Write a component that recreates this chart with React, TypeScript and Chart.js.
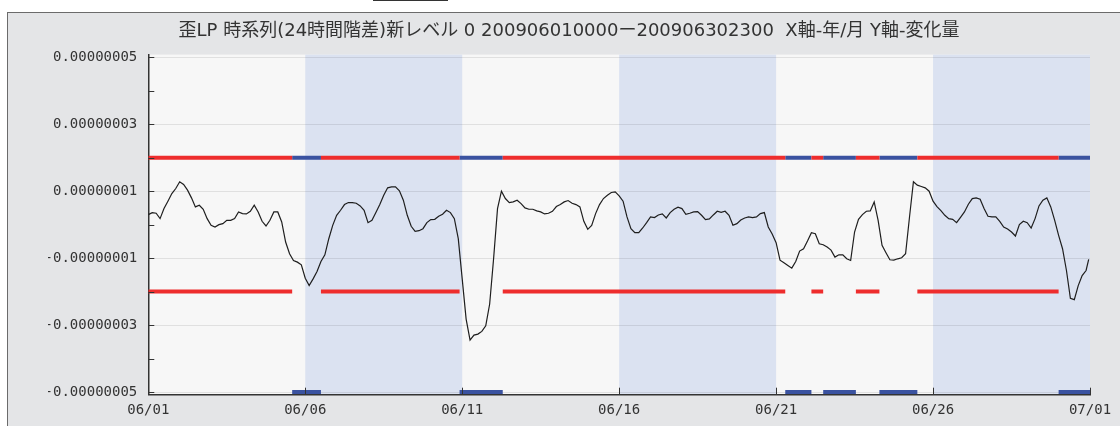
import { useEffect, useRef } from 'react';
import { Chart, registerables } from 'chart.js';

Chart.register(...registerables);

const TITLE = '歪LP 時系列(24時間階差)新レベル 0 200906010000ー200906302300  X軸-年/月 Y軸-変化量';

// 24-hour differenced strain, sampled every 3 hours from 2009-06-01 00:00, in units of 1e-8
const SAMPLE_STEP_HOURS = 3;
const VALUE_UNIT = 1e-8;
const strainDiffE8 = [
  // 06/01 – 06/08
  0.30, 0.36, 0.34, 0.18, 0.48, 0.70, 0.93, 1.08, 1.28, 1.20,
  1.03, 0.80, 0.53, 0.58, 0.46, 0.18, -0.02, -0.07, 0.00, 0.03,
  0.13, 0.13, 0.18, 0.38, 0.33, 0.32, 0.40, 0.58, 0.38, 0.10,
  -0.04, 0.13, 0.38, 0.38, 0.08, -0.52, -0.87, -1.07, -1.12, -1.20,
  -1.60, -1.82, -1.62, -1.40, -1.10, -0.90, -0.42, -0.02, 0.28, 0.43,
  0.60, 0.66, 0.66, 0.64, 0.56, 0.43, 0.06, 0.13, 0.36, 0.60,
  0.88,
  // 06/08 – 06/16
  1.10, 1.13, 1.13, 1.01, 0.73, 0.28, -0.05, -0.20, -0.18, -0.12,
  0.06, 0.15, 0.16, 0.25, 0.31, 0.43, 0.36, 0.18, -0.42, -1.62,
  -2.82, -3.45, -3.30, -3.27, -3.19, -3.02, -2.37, -1.02, 0.48, 1.00,
  0.78, 0.66, 0.68, 0.73, 0.63, 0.50, 0.46, 0.46, 0.41, 0.38,
  0.32, 0.34, 0.40, 0.54, 0.60, 0.68, 0.72, 0.64, 0.60, 0.53,
  0.10, -0.14, -0.02, 0.33, 0.60, 0.78, 0.88, 0.96, 0.98, 0.86,
  // 06/16 – 06/23
  0.70, 0.23, -0.12, -0.24, -0.24, -0.10, 0.06, 0.23, 0.21, 0.29,
  0.32, 0.20, 0.36, 0.46, 0.52, 0.48, 0.31, 0.34, 0.38, 0.39,
  0.28, 0.15, 0.17, 0.29, 0.40, 0.37, 0.40, 0.28, -0.02, 0.03,
  0.14, 0.20, 0.23, 0.21, 0.23, 0.33, 0.36, -0.07, -0.28, -0.54,
  -1.06, -1.14, -1.22, -1.30, -1.10, -0.79, -0.72, -0.49, -0.24, -0.27,
  -0.57, -0.60, -0.67, -0.76, -0.97, -0.90, -0.90, -1.02, -1.07, -0.22,
  0.16,
  // 06/23 – 06/30
  0.30, 0.40, 0.41, 0.68, 0.13, -0.62, -0.84, -1.05, -1.06, -1.02,
  -0.99, -0.87, 0.23, 1.28, 1.18, 1.14, 1.10, 1.00, 0.70, 0.54,
  0.42, 0.28, 0.18, 0.16, 0.06, 0.22, 0.38, 0.61, 0.78, 0.80,
  0.76, 0.48, 0.25, 0.23, 0.23, 0.10, -0.07, -0.13, -0.22, -0.34,
  0.00, 0.10, 0.06, -0.10, 0.18, 0.56, 0.73, 0.80, 0.53, 0.13,
  -0.32, -0.72, -1.37, -2.20, -2.24, -1.82, -1.52, -1.37,
];
// last hourly reading of the period (06/30 23:00)
const lastSampleHour = 719;
const lastSampleE8 = -1.04;

// x axis: hours since 06/01 00:00
const X_MAX_HOURS = 720;
const xTickHours = [0, 120, 240, 360, 480, 600, 720];
const xTickLabels = ['06/01', '06/06', '06/11', '06/16', '06/21', '06/26', '07/01'];

// y axis, in units of 1e-8
const Y_LIMIT_E8 = 5.08;
const yTickSteps = [-5, -4, -3, -2, -1, 0, 1, 2, 3, 4, 5];
const yLabelledSteps = [-5, -3, -1, 1, 3, 5];

// level thresholds and the status bar at the floor, in units of 1e-8
const levelUpperE8 = 2;
const levelLowerE8 = -2;
const statusFloorE8 = -5;

// status periods: boundaries in hours, and whether each period is flagged
const statusBounds = [0, 110, 132, 238, 271, 487, 507, 516, 541, 559, 588, 696, 720];
const statusFlagged = [false, true, false, true, false, true, false, true, false, true, false, true];

const PANEL_BG = '#e4e5e7';
const PLOT_BG = '#f7f7f7';
const BAND_BG = '#dbe2f1';
const RED = '#ee2d2d';
const BLUE = '#3a52a0';
const INK = '#333333';
const MONO = "'DejaVu Sans Mono', monospace";

function statusLine(flagged: boolean, levelE8: number) {
  const pts: { x: number; y: number | null }[] = [];
  statusFlagged.forEach((f, i) => {
    if (f !== flagged) return;
    const y = levelE8 * VALUE_UNIT;
    pts.push({ x: statusBounds[i], y }, { x: statusBounds[i + 1], y }, { x: statusBounds[i + 1], y: null });
  });
  return pts;
}

const bandsPlugin = {
  id: 'bands',
  beforeDraw(chart: any) {
    const { ctx, chartArea, scales } = chart;
    const { left, right, top, bottom } = chartArea;
    ctx.save();
    ctx.fillStyle = PLOT_BG;
    ctx.fillRect(left, top, right - left, bottom - top);
    ctx.fillStyle = BAND_BG;
    for (let i = 0; i < xTickHours.length - 1; i++) {
      if (i % 2 !== 1) continue;
      const x0 = scales.x.getPixelForValue(xTickHours[i]);
      const x1 = scales.x.getPixelForValue(xTickHours[i + 1]);
      ctx.fillRect(x0, top, x1 - x0, bottom - top);
    }
    ctx.restore();
  },
};

// short tick marks pointing into the plot
const innerTicksPlugin = {
  id: 'innerTicks',
  afterDraw(chart: any) {
    const { ctx, chartArea, scales } = chart;
    ctx.save();
    ctx.strokeStyle = INK;
    ctx.lineWidth = 1;
    ctx.beginPath();
    yTickSteps.forEach((s) => {
      const y = Math.round(scales.y.getPixelForValue(s * VALUE_UNIT)) + 0.5;
      ctx.moveTo(chartArea.left, y);
      ctx.lineTo(chartArea.left + 6, y);
    });
    xTickHours.forEach((h) => {
      const x = Math.round(scales.x.getPixelForValue(h)) + 0.5;
      ctx.moveTo(x, chartArea.bottom);
      ctx.lineTo(x, chartArea.bottom - 7);
    });
    ctx.stroke();
    ctx.restore();
  },
};

export default function App() {
  const canvasRef = useRef<HTMLCanvasElement | null>(null);

  useEffect(() => {
    const canvas = canvasRef.current;
    if (!canvas) return;
    const strainPoints = strainDiffE8.map((v, i) => ({ x: i * SAMPLE_STEP_HOURS, y: v * VALUE_UNIT }));
    strainPoints.push({ x: lastSampleHour, y: lastSampleE8 * VALUE_UNIT });

    const chart = new Chart(canvas, {
      type: 'line',
      data: {
        datasets: [
          {
            label: 'strain',
            data: strainPoints,
            borderColor: '#1e1e1e',
            borderWidth: 1.2,
            pointRadius: 0,
            tension: 0,
          },
          { label: 'upper normal', data: statusLine(false, levelUpperE8), borderColor: RED, borderWidth: 4, pointRadius: 0, spanGaps: false },
          { label: 'upper flagged', data: statusLine(true, levelUpperE8), borderColor: BLUE, borderWidth: 4, pointRadius: 0, spanGaps: false },
          { label: 'lower normal', data: statusLine(false, levelLowerE8), borderColor: RED, borderWidth: 4, pointRadius: 0, spanGaps: false },
          { label: 'floor flagged', data: statusLine(true, statusFloorE8), borderColor: BLUE, borderWidth: 4, pointRadius: 0, spanGaps: false },
        ],
      },
      options: {
        animation: false,
        responsive: false,
        maintainAspectRatio: false,
        events: [],
        layout: { padding: { left: 40, right: 30, top: 0, bottom: 0 } },
        plugins: {
          legend: { display: false },
          tooltip: { enabled: false },
          title: {
            display: true,
            text: TITLE,
            color: INK,
            font: { family: "'DejaVu Sans', 'Noto Sans CJK JP', sans-serif", size: 18, weight: 'normal', lineHeight: 1.2 },
            padding: { top: 8, bottom: 12 },
          },
        },
        scales: {
          x: {
            type: 'linear',
            min: 0,
            max: X_MAX_HOURS,
            bounds: 'data',
            afterBuildTicks: (s: any) => {
              s.ticks = xTickHours.map((v) => ({ value: v }));
            },
            afterFit: (s: any) => {
              s.height = 31.3;
            },
            grid: { display: false, drawTicks: false },
            border: { display: true, color: INK, width: 1.5 },
            ticks: {
              autoSkip: false,
              maxRotation: 0,
              padding: 7,
              color: INK,
              font: { family: MONO, size: 14 },
              callback: (_v: any, i: number) => xTickLabels[i],
            },
          },
          y: {
            type: 'linear',
            min: -Y_LIMIT_E8 * VALUE_UNIT,
            max: Y_LIMIT_E8 * VALUE_UNIT,
            bounds: 'data',
            afterBuildTicks: (s: any) => {
              s.ticks = yTickSteps.map((k) => ({ value: k * VALUE_UNIT }));
            },
            afterFit: (s: any) => {
              s.width = 100.3;
            },
            grid: {
              drawTicks: false,
              lineWidth: 1,
              color: (ctx: any) => {
                const v = ctx.tick ? Math.round(ctx.tick.value / VALUE_UNIT) : 0;
                return yLabelledSteps.includes(v) ? 'rgba(0,0,0,0.09)' : 'rgba(0,0,0,0)';
              },
            },
            border: { display: true, color: INK, width: 1.5 },
            ticks: {
              autoSkip: false,
              padding: 11,
              color: INK,
              font: { family: MONO, size: 14 },
              callback: (value: any) => {
                const k = Math.round(Number(value) / VALUE_UNIT);
                return yLabelledSteps.includes(k) ? Number(value).toFixed(8) : '';
              },
            },
          },
        },
      },
      plugins: [bandsPlugin, innerTicksPlugin],
    } as any);

    return () => chart.destroy();
  }, []);

  return (
    <div style={{ position: 'absolute', left: 0, top: 0, width: 1120, height: 426, overflow: 'hidden', background: '#ffffff' }}>
      <div style={{ position: 'absolute', left: 373, top: 0, width: 75, height: 1, background: INK }} />
      <div
        style={{
          position: 'absolute',
          left: 7,
          top: 12,
          width: 1120,
          height: 420,
          background: PANEL_BG,
          borderLeft: '1px solid #6b6b6b',
          borderTop: '1px solid #6b6b6b',
        }}
      />
      <canvas ref={canvasRef} width={1112} height={413} style={{ position: 'absolute', left: 8, top: 13 }} />
    </div>
  );
}
